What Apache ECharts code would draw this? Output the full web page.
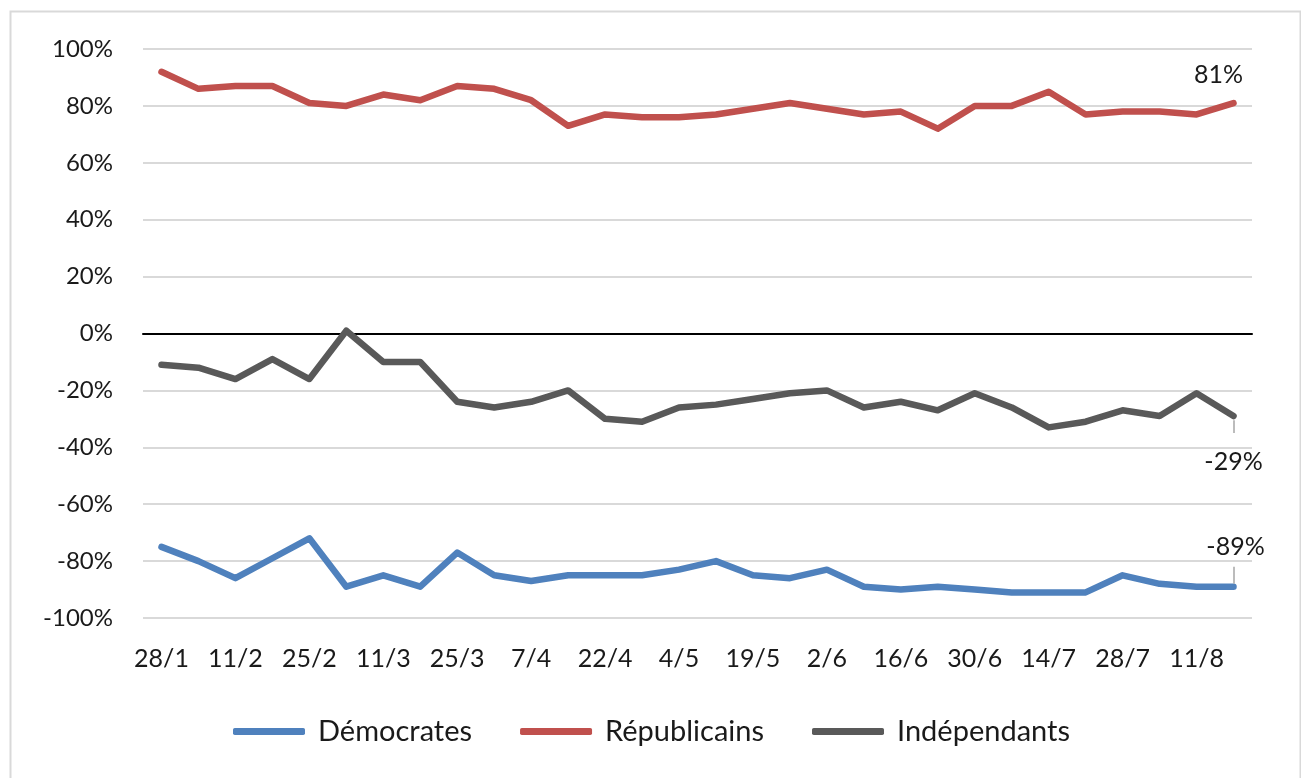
<!DOCTYPE html>
<html>
<head>
<meta charset="utf-8">
<script src="https://cdn.jsdelivr.net/npm/echarts@6/dist/echarts.min.js"></script>
<style>
  html, body { margin: 0; padding: 0; background: #fff; }
  #chart { width: 1301px; height: 778px; }
</style>
</head>
<body>
<div id="chart"></div>
<script>
const dates = [
  "28/1", "4/2", "11/2", "18/2", "25/2", "4/3", "11/3", "18/3", "25/3", "1/4",
  "7/4", "15/4", "22/4", "29/4", "4/5", "12/5", "19/5", "26/5", "2/6", "9/6",
  "16/6", "23/6", "30/6", "7/7", "14/7", "21/7", "28/7", "4/8", "11/8", "18/8"
];

const democrates = [
  -75, -80, -86, -79, -72, -89, -85, -89, -77, -85,
  -87, -85, -85, -85, -83, -80, -85, -86, -83, -89,
  -90, -89, -90, -91, -91, -91, -85, -88, -89, -89
];

const republicains = [
  92, 86, 87, 87, 81, 80, 84, 82, 87, 86,
  82, 73, 77, 76, 76, 77, 79, 81, 79, 77,
  78, 72, 80, 80, 85, 77, 78, 78, 77, 81
];

const independants = [
  -11, -12, -16, -9, -16, 1, -10, -10, -24, -26,
  -24, -20, -30, -31, -26, -25, -23, -21, -20, -26,
  -24, -27, -21, -26, -33, -31, -27, -29, -21, -29
];

const yTicks = [-100, -80, -60, -40, -20, 0, 20, 40, 60, 80, 100];

const FONT = "Lato";
const last = dates.length - 1;

const chart = echarts.init(document.getElementById("chart"), null, { renderer: "canvas" });

function lineSeries(name, values, color, offset, leader) {
  return {
    name: name,
    type: "line",
    data: values,
    symbol: "none",
    lineStyle: { color: color, width: 6.5, cap: "round", join: "round" },
    itemStyle: { color: color },
    emphasis: { disabled: true },
    animation: false,
    endLabel: offset ? {
      show: true,
      distance: 0,
      offset: offset,
      align: "center",
      verticalAlign: "middle",
      formatter: (p) => p.value + "%",
      fontFamily: FONT,
      fontSize: 25,
      color: "#1a1a1a"
    } : undefined,
    markLine: leader ? {
      silent: true,
      symbol: "none",
      animation: false,
      label: { show: false },
      lineStyle: { color: "#a6a6a6", width: 1.5, type: "solid" },
      data: [[
        { coord: [last, values[last] + leader[0]] },
        { coord: [last, values[last] + leader[1]] }
      ]]
    } : undefined
  };
}

chart.setOption({
  backgroundColor: "#fff",
  animation: false,
  graphic: [{
    type: "rect",
    left: 8,
    top: 9,
    shape: { width: 1290, height: 790 },
    style: { fill: "none", stroke: "#d9d9d9", lineWidth: 2 },
    z: -1
  }],
  grid: {
    left: 143,
    right: 49,
    top: 49,
    bottom: 160
  },
  legend: {
    bottom: 27,
    left: 228,
    itemWidth: 72,
    itemHeight: 7,
    itemGap: 48,
    icon: "roundRect",
    textStyle: { fontFamily: FONT, fontSize: 29, color: "#1a1a1a", padding: [0, 0, 0, 8] },
    data: ["Démocrates", "Républicains", "Indépendants"]
  },
  xAxis: {
    type: "category",
    data: dates,
    boundaryGap: true,
    axisLine: { onZero: true, lineStyle: { color: "#000", width: 2 } },
    axisTick: { show: false },
    axisLabel: {
      interval: 1,
      fontFamily: FONT,
      fontSize: 25,
      color: "#1a1a1a",
      margin: 28
    }
  },
  yAxis: {
    type: "value",
    min: yTicks[0],
    max: yTicks[yTicks.length - 1],
    interval: 20,
    axisLine: { show: false },
    axisTick: { show: false },
    axisLabel: {
      fontFamily: FONT,
      fontSize: 24,
      color: "#1a1a1a",
      margin: 30,
      formatter: (v) => v + "%"
    },
    splitLine: { lineStyle: { color: "#d9d9d9", width: 2 } }
  },
  series: [
    lineSeries("Démocrates", democrates, "#4f81bd", [2, -40], [1, 7]),
    lineSeries("Républicains", republicains, "#c0504d", [-15, -28], null),
    lineSeries("Indépendants", independants, "#595959", [0, 46], [-1.5, -6])
  ]
});
</script>
</body>
</html>
